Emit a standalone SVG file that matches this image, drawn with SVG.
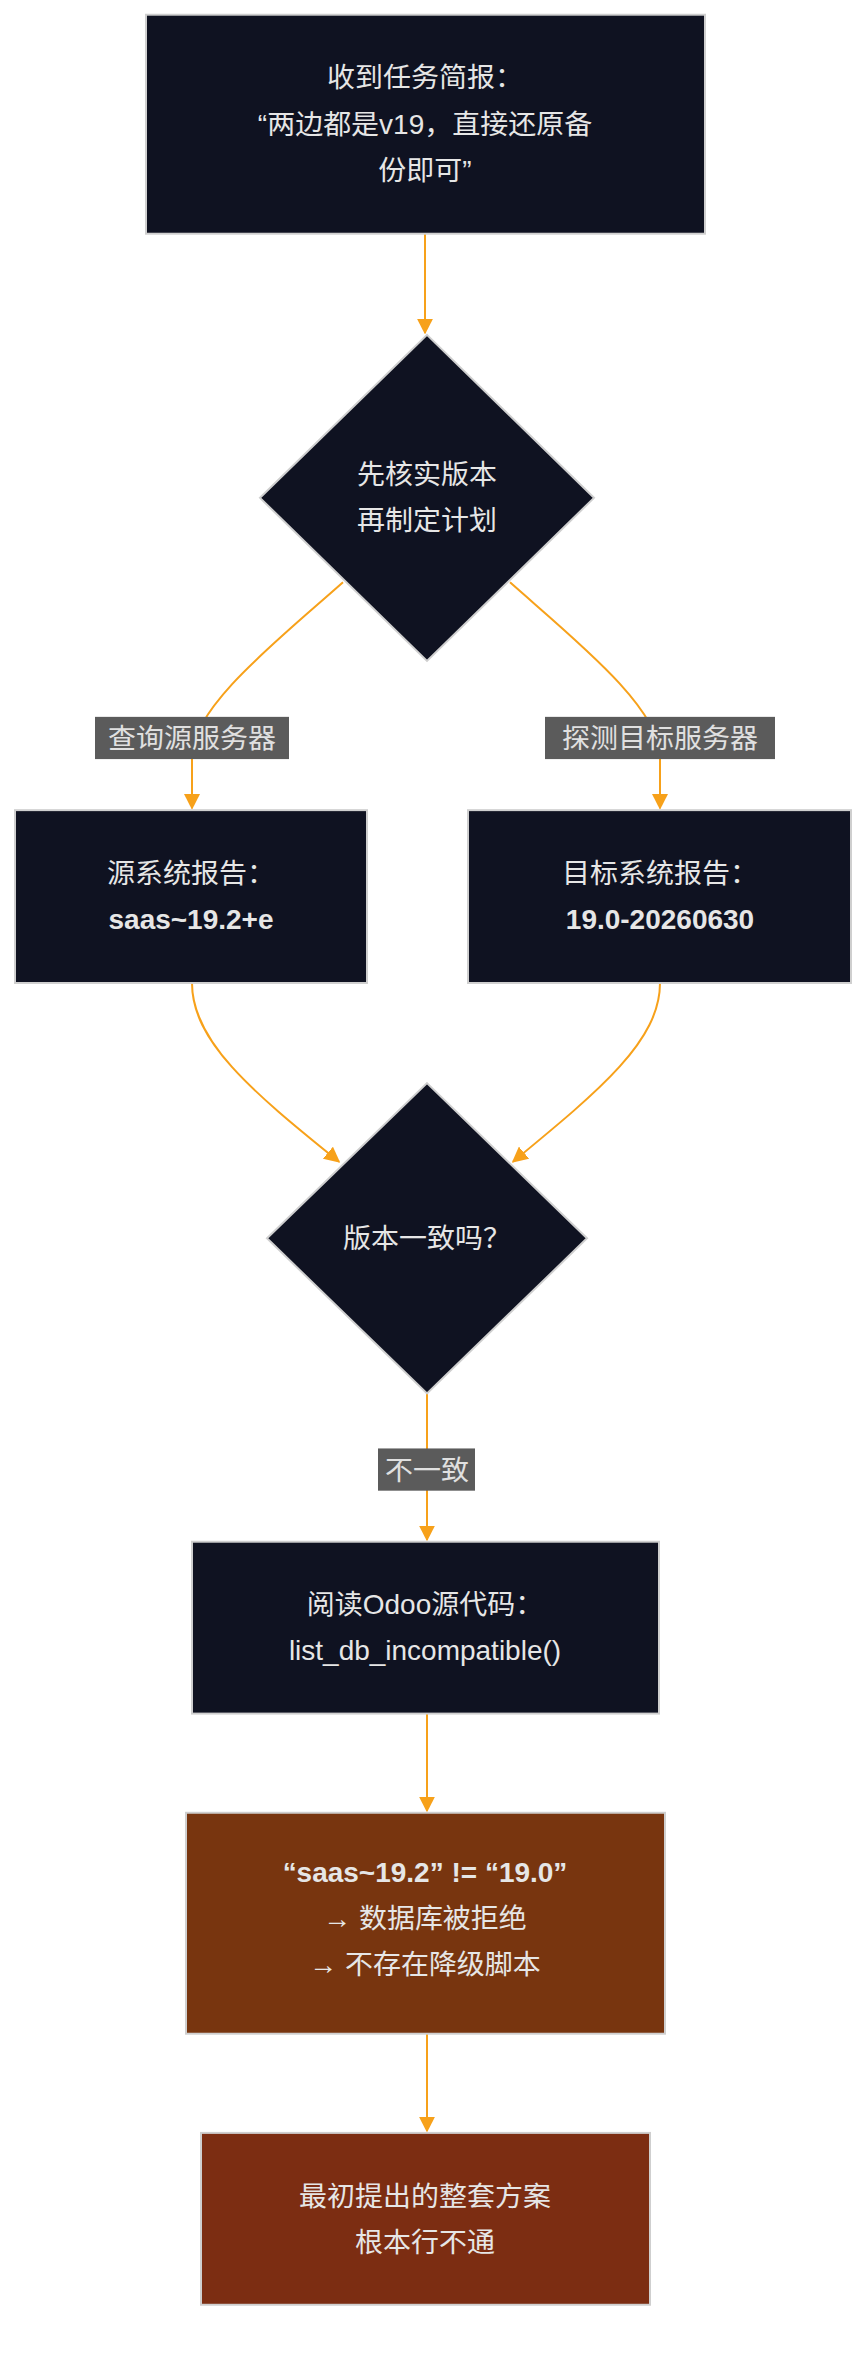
<svg xmlns="http://www.w3.org/2000/svg" width="868" height="2364" viewBox="0 0 868 2364">
<style>
.n{fill:#0f1221;stroke:#cfcfcf;stroke-width:2}
.t{font-family:"Liberation Sans","Noto Sans CJK SC",sans-serif;font-size:28px;fill:#e6e6e6;text-anchor:middle}
.b{font-weight:bold}
.e{fill:none;stroke:#f7a11a;stroke-width:2;marker-end:url(#a)}
.lb{fill:#5b5b5b}
.lt{font-family:"Liberation Sans","Noto Sans CJK SC",sans-serif;font-size:28px;fill:#e0e0e0;text-anchor:middle}
</style>
<defs><marker id="a" viewBox="0 0 10 10" refX="9" refY="5" markerWidth="8" markerHeight="8" orient="auto"><path d="M0,0L10,5L0,10z" fill="#f7a11a"/></marker></defs>
<rect width="868" height="2364" fill="#fff"/>
<g transform="scale(1,0.982)">
<g id="edges">
<path class="e" d="M425,238V339"/>
<path class="e" d="M343,593C280,650 192,720 192,770V823"/>
<path class="e" d="M510,593C573,650 660,720 660,770V823"/>
<path class="e" d="M192,1001C192,1060 250,1110 339,1183"/>
<path class="e" d="M660,1001C660,1060 600,1110 513,1183"/>
<path class="e" d="M427,1419V1568"/>
<path class="e" d="M427,1745V1844"/>
<path class="e" d="M427,2071V2170"/>
<rect class="lb" x="95" y="730" width="194" height="43"/>
<text class="lt" x="192" y="762">查询源服务器</text>
<rect class="lb" x="545" y="730" width="230" height="43"/>
<text class="lt" x="660" y="762">探测目标服务器</text>
<rect class="lb" x="378" y="1475" width="97" height="43"/>
<text class="lt" x="427" y="1507">不一致</text>
</g>
<g id="n1"><rect class="n" x="146" y="15" width="559" height="223"/>
<text class="t" x="425" y="89">收到任务简报：</text><text class="t" x="425" y="136">“两边都是v19，直接还原备</text><text class="t" x="425" y="183">份即可”</text></g>
<g id="n2"><path class="n" d="M427,341L594,507L427,673L260,507Z"/>
<text class="t" x="427" y="493">先核实版本</text><text class="t" x="427" y="540">再制定计划</text></g>
<g id="n3"><rect class="n" x="15" y="825" width="352" height="176"/>
<text class="t" x="191" y="899">源系统报告：</text><text class="t b" x="191" y="946">saas~19.2+e</text></g>
<g id="n4"><rect class="n" x="468" y="825" width="383" height="176"/>
<text class="t" x="660" y="899">目标系统报告：</text><text class="t b" x="660" y="946">19.0-20260630</text></g>
<g id="n5"><path class="n" d="M427,1103L587,1261L427,1419L267,1261Z"/>
<text class="t" x="427" y="1271">版本一致吗？</text></g>
<g id="n6"><rect class="n" x="192" y="1570" width="467" height="175"/>
<text class="t" x="425" y="1644">阅读Odoo源代码：</text><text class="t" x="425" y="1690">list_db_incompatible()</text></g>
<g id="n7"><rect x="186" y="1846" width="479" height="225" fill="#78350f" stroke="#cfcfcf" stroke-width="2"/>
<text class="t b" x="425" y="1916">“saas~19.2” != “19.0”</text><text class="t" x="425" y="1963">→ 数据库被拒绝</text><text class="t" x="425" y="2010">→ 不存在降级脚本</text></g>
<g id="n8"><rect x="201" y="2172" width="449" height="175" fill="#7c2d12" stroke="#cfcfcf" stroke-width="2"/>
<text class="t" x="425" y="2246">最初提出的整套方案</text><text class="t" x="425" y="2293">根本行不通</text></g>
</g>
</svg>
